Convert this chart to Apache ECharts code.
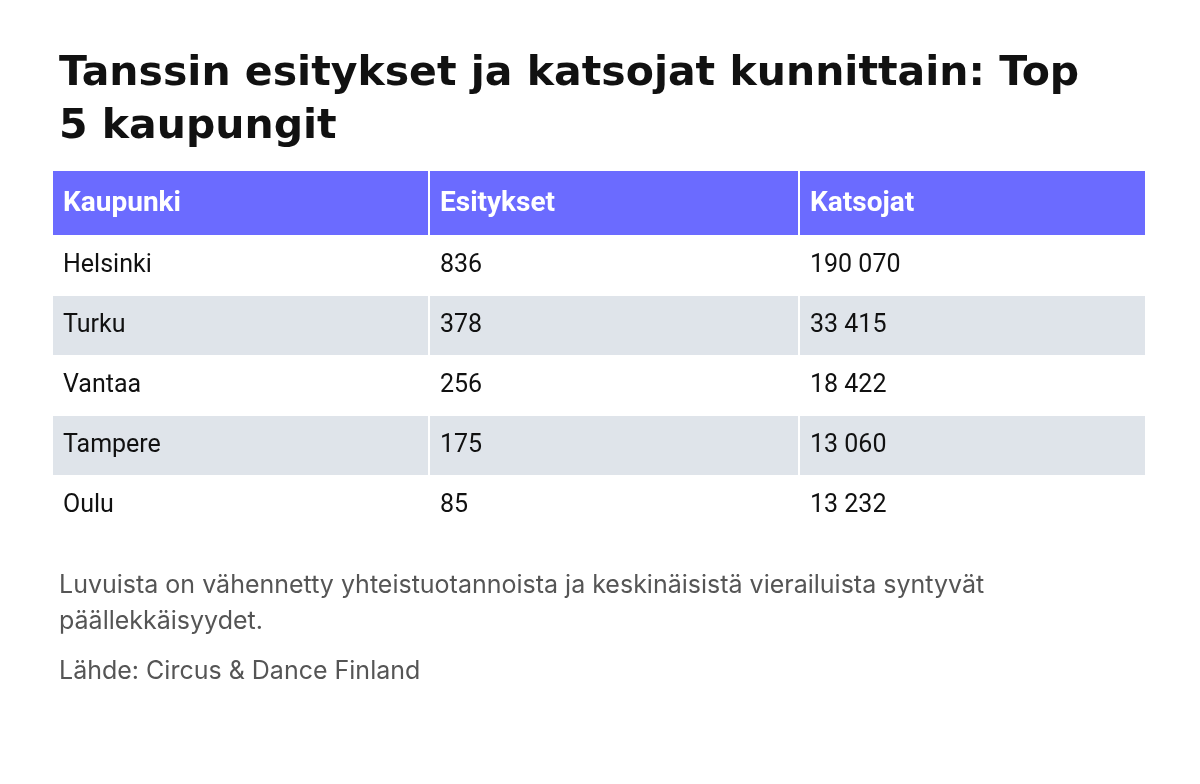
<!DOCTYPE html>
<html><head><meta charset="utf-8">
<script src="https://cdn.jsdelivr.net/npm/echarts@6/dist/echarts.min.js"></script>
<style>html,body{margin:0;background:#fff}#c{width:1200px;height:784px}</style>
</head><body><div id="c"></div>
<script>
var headers = ['Kaupunki', 'Esitykset', 'Katsojat'];
var cities = ['Helsinki', 'Turku', 'Vantaa', 'Tampere', 'Oulu'];
var esitykset = ['836', '378', '256', '175', '85'];
var katsojat = ['190 070', '33 415', '18 422', '13 060', '13 232'];

// table layout edges in table units (layout only)
var colEdges = [0, 377, 747, 1092];
var rowEdges = [0, 65, 125, 185, 245, 305, 365];

var cells = [];
headers.forEach(function (h, c) { cells.push([c, 0, h]); });
cities.forEach(function (city, r) {
    cells.push([0, r + 1, city]);
    cells.push([1, r + 1, esitykset[r]]);
    cells.push([2, r + 1, katsojat[r]]);
});

var chart = echarts.init(document.getElementById('c'));
chart.setOption({
    backgroundColor: '#fff',
    title: [{
        text: 'Tanssin esitykset ja katsojat kunnittain: Top\n5 kaupungit',
        left: 54, top: 43,
        textStyle: { fontFamily: 'DejaVu Sans', fontWeight: 'bold', fontSize: 41, lineHeight: 53, color: '#111' }
    }, {
        text: 'Luvuista on vähennetty yhteistuotannoista ja keskinäisistä vierailuista syntyvät\npäällekkäisyydet.',
        left: 54, top: 562,
        textStyle: { fontFamily: 'Inter', fontWeight: 400, fontSize: 25, lineHeight: 36, color: '#555' }
    }, {
        text: 'Lähde: Circus & Dance Finland',
        left: 54, top: 654,
        textStyle: { fontFamily: 'Inter', fontWeight: 400, fontSize: 25, color: '#555' }
    }],
    grid: { left: 53, top: 171, width: 1092, height: 365 },
    xAxis: { type: 'value', min: 0, max: 1092, show: false },
    yAxis: { type: 'value', min: 0, max: 365, inverse: true, show: false },
    series: [{
        type: 'custom',
        data: cells,
        renderItem: function (params, api) {
            var c = api.value(0), r = api.value(1);
            var p0 = api.coord([colEdges[c], rowEdges[r]]);
            var p1 = api.coord([colEdges[c + 1], rowEdges[r + 1]]);
            var header = r === 0;
            var fill = header ? '#6b6bff' : (r % 2 === 0 ? '#dfe4ea' : '#ffffff');
            return {
                type: 'group',
                children: [{
                    type: 'rect',
                    shape: { x: p0[0], y: p0[1], width: p1[0] - p0[0] - (c < 2 ? 2 : 0), height: p1[1] - p0[1] - 1 },
                    style: { fill: fill }
                }, {
                    type: 'text',
                    style: {
                        x: p0[0] + 10, y: (p0[1] + p1[1]) / 2,
                        text: cells[params.dataIndex][2],
                        verticalAlign: 'middle',
                        fill: header ? '#fff' : '#111',
                        font: (header ? 'bold 28px' : '25px') + ' Roboto'
                    }
                }]
            };
        }
    }],
    animation: false
});
</script>
</body></html>
